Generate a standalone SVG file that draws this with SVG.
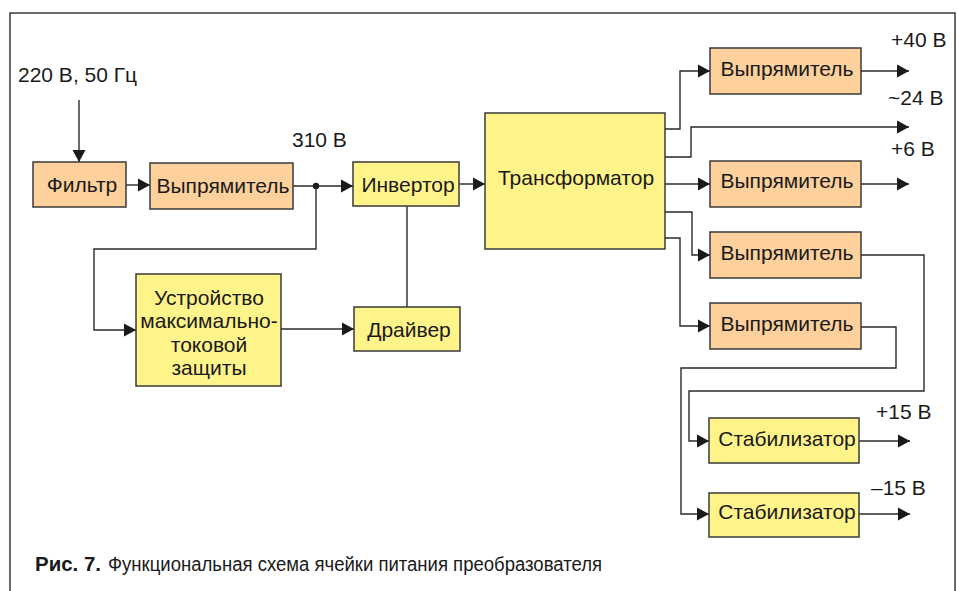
<svg xmlns="http://www.w3.org/2000/svg" width="957" height="591" viewBox="0 0 957 591">
<style>
  .bg{fill:#fff}
  .frame{fill:none;stroke:#3a3a3a;stroke-width:1.5}
  .peach{fill:#FDD09C;stroke:#3a3a3a;stroke-width:1.5}
  .yellow{fill:#FFF48A;stroke:#3a3a3a;stroke-width:1.5}
  .t{font-family:"Liberation Sans",Arial,sans-serif;font-size:21px;fill:#1a1a1a}
  .c{text-anchor:middle}
  .wire{fill:none;stroke:#2a2a2a;stroke-width:1.4}
  .arr{marker-end:url(#ah)}
  .cap{font-family:"Liberation Sans",Arial,sans-serif;font-size:20px;fill:#1a1a1a}
</style>
<defs>
  <marker id="ah" markerUnits="userSpaceOnUse" markerWidth="13" markerHeight="14" refX="12" refY="6.5" orient="auto" viewBox="0 0 13 13">
    <path d="M0,0 L12,6.5 L0,13 z" fill="#1a1a1a"/>
  </marker>
</defs>
<rect class="bg" width="957" height="591"/>
<path class="frame" d="M10,591 V13 H955 V591"/>

<g id="connectors">
  <path class="wire arr" d="M79,100 V162"/>
  <path class="wire arr" d="M126,185 H150"/>
  <path class="wire arr" d="M293,186 H353"/>
  <circle cx="316" cy="186" r="3.2" fill="#1a1a1a"/>
  <path class="wire arr" d="M316,186 V249 H94 V330 H136"/>
  <path class="wire arr" d="M459,184 H485"/>
  <path class="wire" d="M407,206 V307"/>
  <path class="wire arr" d="M281,329 H354"/>
  <path class="wire arr" d="M665,129 H680 V71 H710"/>
  <path class="wire arr" d="M861,71 H909"/>
  <path class="wire arr" d="M665,157 H691 V127 H909"/>
  <path class="wire arr" d="M665,184 H710"/>
  <path class="wire arr" d="M861,184 H909"/>
  <path class="wire arr" d="M665,212 H692 V255 H710"/>
  <path class="wire arr" d="M665,238 H680 V326 H710"/>
  <path class="wire arr" d="M861,255 H924 V391 H689 V441 H709"/>
  <path class="wire arr" d="M861,327 H896 V368 H681 V514 H709"/>
  <path class="wire arr" d="M859,441 H910"/>
  <path class="wire arr" d="M859,514 H910"/>
</g>

<g id="filter"><rect class="peach" x="33" y="162" width="93" height="45"/><text class="t c" x="82" y="192">Фильтр</text></g>
<g id="rect1"><rect class="peach" x="150" y="163" width="143" height="46"/><text class="t c" x="223" y="193">Выпрямитель</text></g>
<g id="inverter"><rect class="yellow" x="353" y="162" width="106" height="44"/><text class="t c" x="408" y="192">Инвертор</text></g>
<g id="transformer"><rect class="yellow" x="485" y="113" width="180" height="136"/><text class="t c" x="576" y="185">Трансформатор</text></g>
<g id="protection"><rect class="yellow" x="136" y="274" width="145" height="112"/>
  <text class="t c" x="209" y="305">Устройство</text>
  <text class="t c" x="209" y="328">максимально-</text>
  <text class="t c" x="209" y="352">токовой</text>
  <text class="t c" x="209" y="375">защиты</text></g>
<g id="driver"><rect class="yellow" x="354" y="307" width="106" height="44"/><text class="t c" x="409" y="337">Драйвер</text></g>
<g id="rect40"><rect class="peach" x="710" y="48" width="151" height="46"/><text class="t c" x="787" y="76">Выпрямитель</text></g>
<g id="rect6"><rect class="peach" x="710" y="161" width="151" height="46"/><text class="t c" x="787" y="188">Выпрямитель</text></g>
<g id="rect3"><rect class="peach" x="710" y="232" width="151" height="46"/><text class="t c" x="787" y="260">Выпрямитель</text></g>
<g id="rect4"><rect class="peach" x="710" y="303" width="151" height="46"/><text class="t c" x="787" y="331">Выпрямитель</text></g>
<g id="stab1"><rect class="yellow" x="709" y="418" width="150" height="45"/><text class="t c" x="787" y="446">Стабилизатор</text></g>
<g id="stab2"><rect class="yellow" x="709" y="493" width="150" height="44"/><text class="t c" x="787" y="519">Стабилизатор</text></g>

<g id="labels">
  <text class="t" x="18" y="82">220 В, 50 Гц</text>
  <text class="t" x="292" y="147">310 В</text>
  <text class="t" x="891" y="47">+40 В</text>
  <text class="t" x="888" y="105">~24 В</text>
  <text class="t" x="891" y="156">+6 В</text>
  <text class="t" x="876" y="419">+15 В</text>
  <text class="t" x="871" y="495">–15 В</text>
</g>
<g id="caption">
  <text class="cap" x="35" y="571" font-weight="bold" textLength="66" lengthAdjust="spacingAndGlyphs">Рис. 7.</text>
  <text class="cap" x="108" y="571" textLength="494" lengthAdjust="spacingAndGlyphs">Функциональная схема ячейки питания преобразователя</text>
</g>
</svg>
